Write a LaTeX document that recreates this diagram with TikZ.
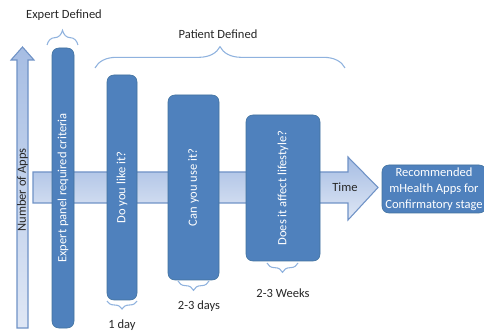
\documentclass[tikz,border=0pt]{standalone}
\usepackage{fontspec}
\setmainfont{Carlito}
\usepackage{xcolor}
\usepackage{tikz}
\usetikzlibrary{positioning, decorations.pathreplacing}
\definecolor{boxblue}{HTML}{4F81BD}
\definecolor{boxedge}{HTML}{41719C}
\definecolor{arrowtop}{HTML}{A6BDE3}
\definecolor{arrowbot}{HTML}{DFE7F5}
\definecolor{arrowedge}{HTML}{6F92C6}
\definecolor{bracecol}{HTML}{8FB2DE}
\definecolor{labelcol}{HTML}{262626}
\tikzstyle{criteria} = [rectangle, rounded corners=5pt,
rotate=90,
inner sep=0pt,
text centered,
draw=boxedge,
fill=boxblue,
text=white]
\tikzstyle{output} = [rectangle, rounded corners=5pt,
minimum width=78pt,
minimum height=36pt,
inner sep=1pt,
align=center,
draw=boxedge,
fill=boxblue,
text=white]
\tikzstyle{bigarrow} = [draw=arrowedge, line width=0.8pt,
top color=arrowtop,
bottom color=arrowbot]
\tikzstyle{curly} = [draw=bracecol, line width=0.8pt,
decorate]
\tikzstyle{caption} = [text=labelcol]

\begin{document}
\begin{tikzpicture}[x=0.75pt, y=0.75pt, font=\fontsize{9.4}{12}\selectfont]
\useasboundingbox (0,0) rectangle (484,331);
\clip (0,0) rectangle (484,331);

% Arrows (axes)
\draw [bigarrow] (17,3) -- (17,271) -- (11,271) -- (22.5,284) -- (34,271) -- (28,271) -- (28,3) -- cycle;
\draw [bigarrow] (33,128) -- (348,128) -- (348,111) -- (378,143.5) -- (348,174) -- (348,159) -- (33,159) -- cycle;
\node (apps) [caption, rotate=90] at (22.5,141) {Number of Apps};
\node (time) [caption] at (345,143.5) {Time};

% Nodes
\node (expert) [criteria, minimum width=210pt, minimum height=16.5pt] at (63,143) {Expert panel required criteria};
\node (like) [criteria, minimum width=168.75pt, minimum height=22.5pt] at (122,143.5) {Do you like it?};
\node (use) [criteria, minimum width=138.75pt, minimum height=38.25pt] at (193.5,143.5) {Can you use it?};
\node (life) [criteria, minimum width=109.5pt, minimum height=55.5pt] at (283,143) {Does it affect lifestyle?};
\node (recommend) [output] at (434,142) {Recommended\\mHealth Apps for\\Confirmatory stage};

% Braces
\draw [curly, decoration={brace, amplitude=11pt}] (47,286) -- (78,286);
\node (expertlbl) [caption] at (64,316) {Expert Defined};
\draw [curly, decoration={brace, amplitude=16pt}] (95,263) -- (345,263);
\node (patientlbl) [caption] at (218,297) {Patient Defined};

\draw [curly, decoration={brace, amplitude=6pt}] (137,30) -- (107,30);
\node (day) [caption] at (122,6) {1 day};
\draw [curly, decoration={brace, amplitude=7pt}] (209,50) -- (178,50);
\node (days) [caption] at (199,25) {2-3 days};
\draw [curly, decoration={brace, amplitude=7pt}] (298,68) -- (267,68);
\node (weeks) [caption] at (283,38) {2-3 Weeks};

\end{tikzpicture}
\end{document}
